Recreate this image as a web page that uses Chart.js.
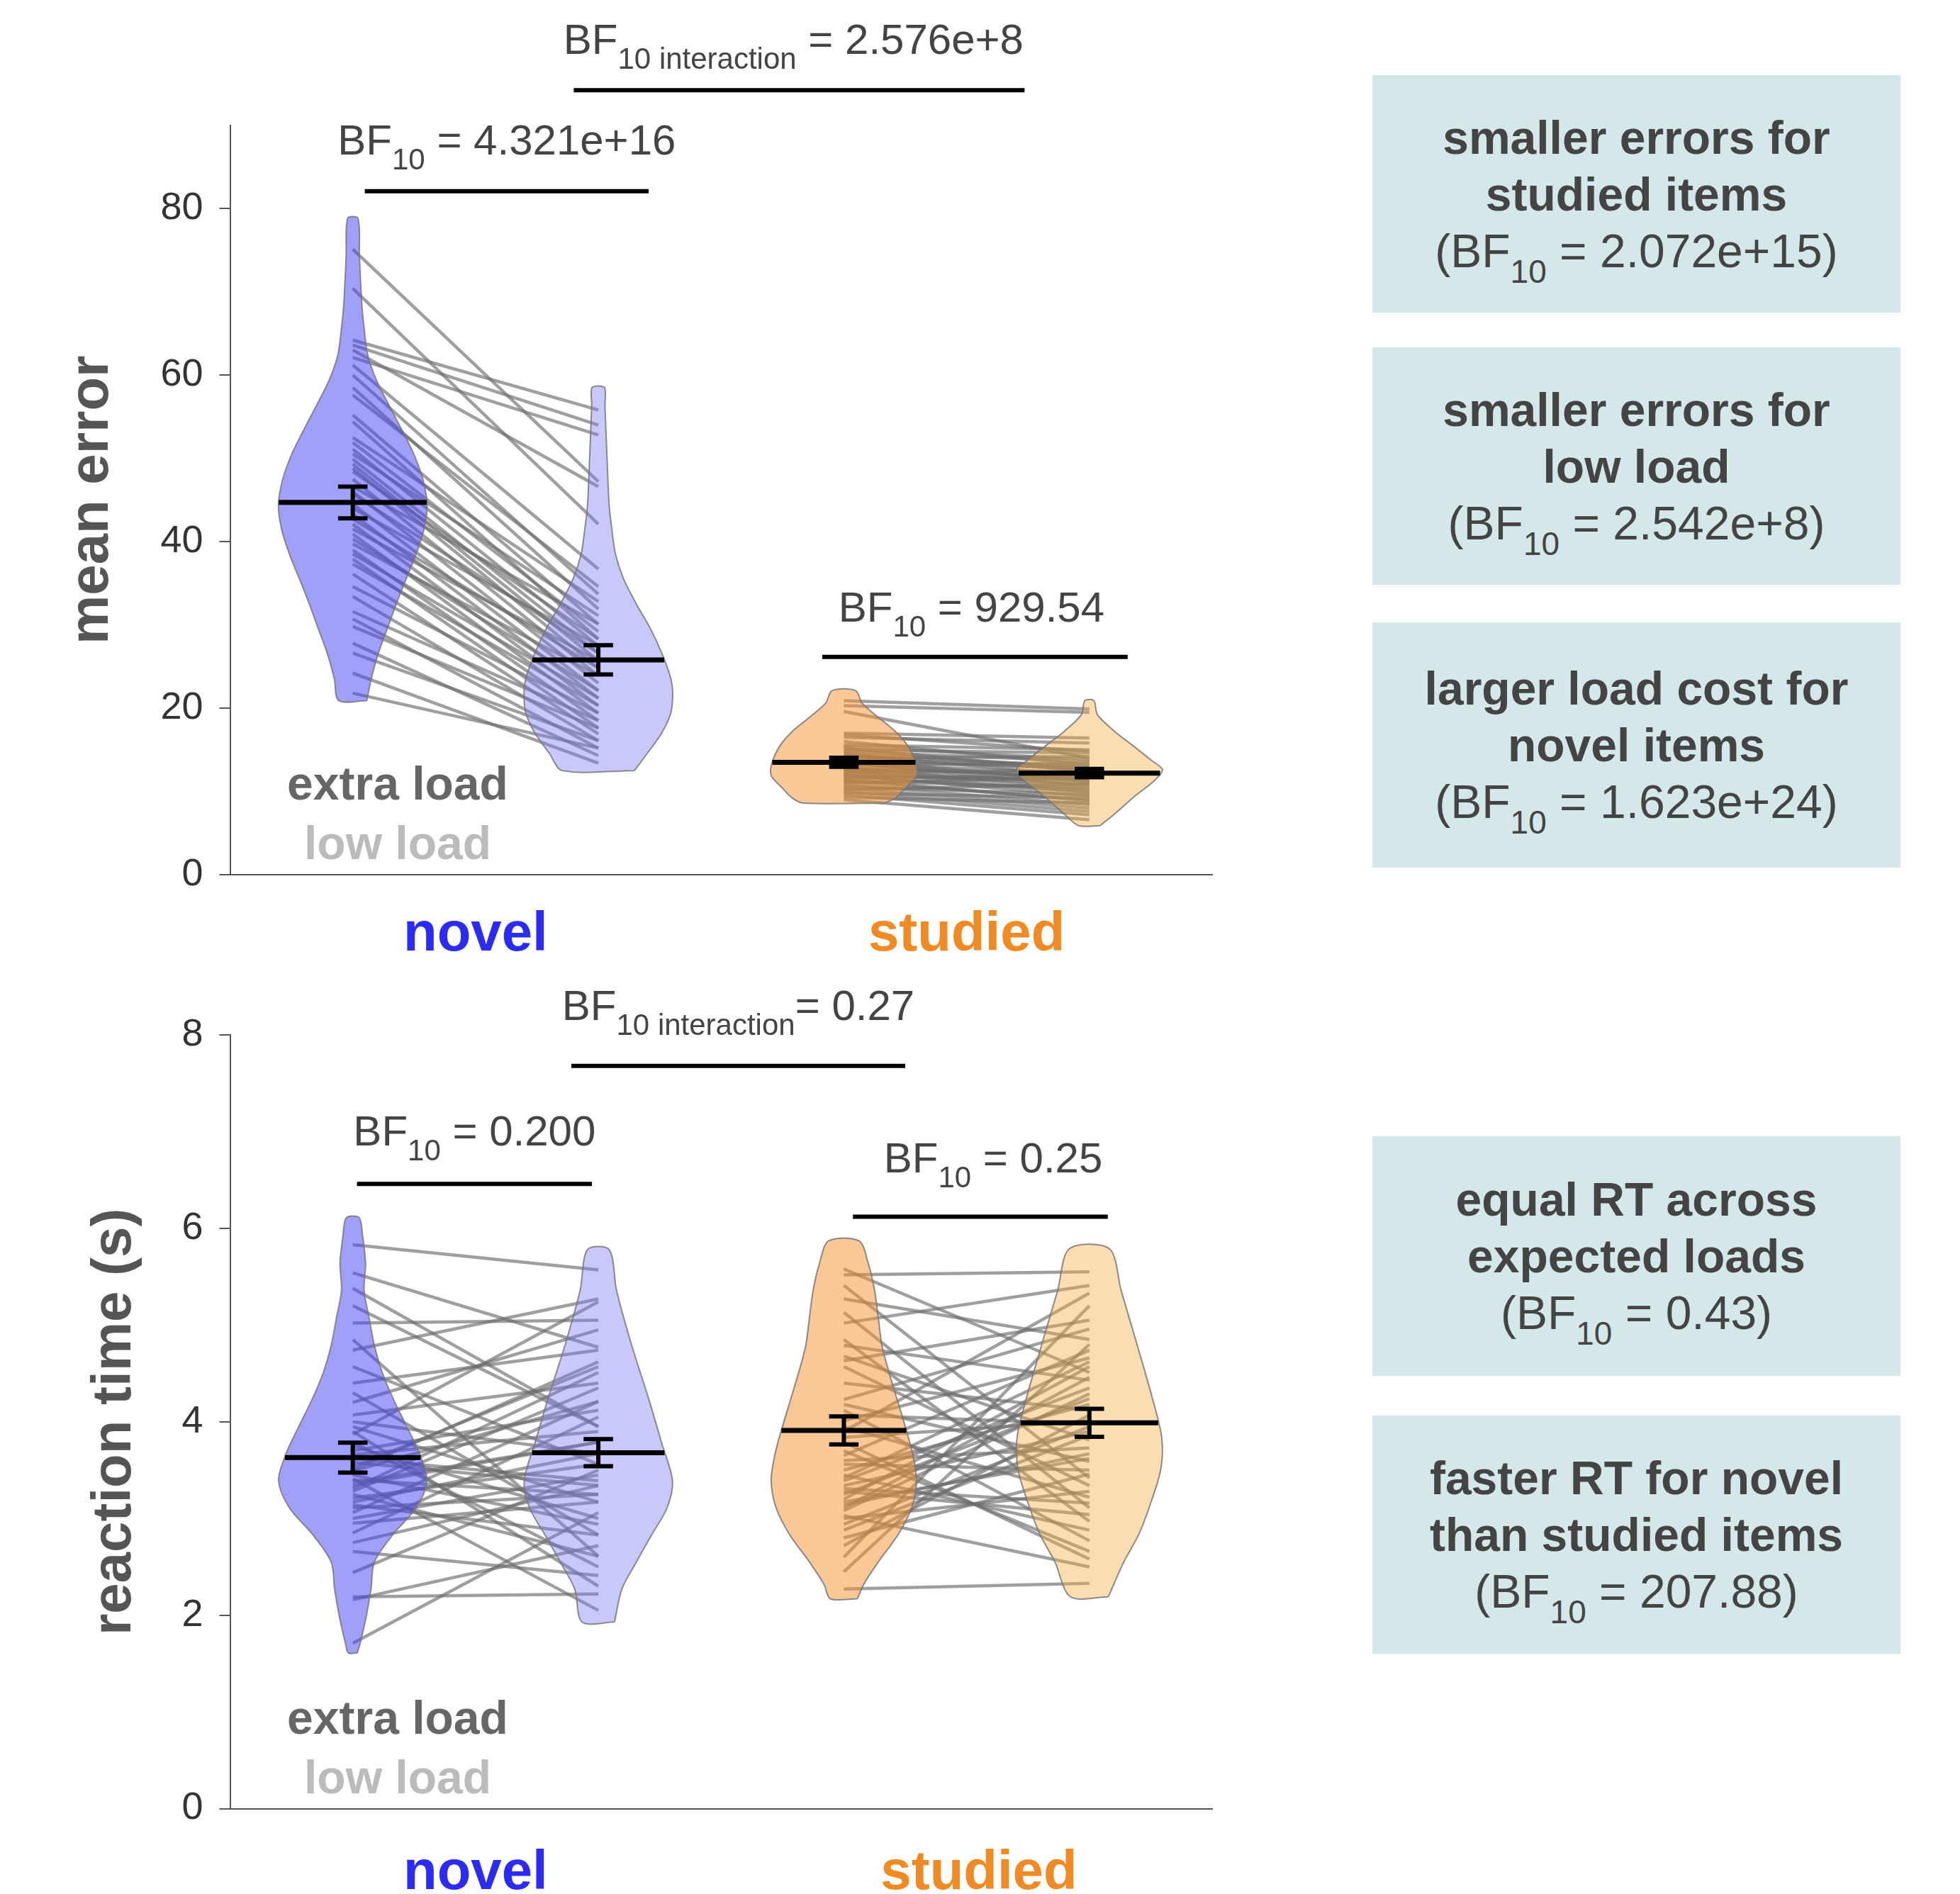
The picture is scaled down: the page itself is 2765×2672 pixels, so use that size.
<!DOCTYPE html>
<html>
<head>
<meta charset="utf-8">
<title>mean error / reaction time</title>
<script src="https://cdn.jsdelivr.net/npm/chart.js@4.4.1/dist/chart.umd.min.js"></script>
<style>
  body { margin: 0; background: #fff; font-family: "Liberation Sans", Arial, sans-serif; }
  #page { position: relative; width: 2765px; height: 2672px; overflow: hidden; }
  .panel { position: absolute; left: 0; width: 1800px; }
  #topPanel { top: 0; height: 1380px; }
  #bottomPanel { top: 1380px; height: 1292px; }
  .box { position: absolute; left: 1936px; width: 745px; background: #d5e8e9; color: #444;
         display: flex; flex-direction: column; justify-content: center; text-align: center;
         font-size: 66px; line-height: 80px; }
  .box .b { font-weight: bold; }
  .box .s { font-size: 46px; position: relative; top: 22px; line-height: 0; }
</style>
</head>
<body>
<div id="page">
  <div class="panel" id="topPanel"><canvas id="errorChart"></canvas></div>
  <div class="panel" id="bottomPanel"><canvas id="rtChart"></canvas></div>

  <div class="box" style="top:106px;height:335px">
    <div class="b">smaller errors for</div>
    <div class="b">studied items</div>
    <div>(BF<span class="s">10</span> = 2.072e+15)</div>
  </div>
  <div class="box" style="top:490px;height:335px">
    <div class="b">smaller errors for</div>
    <div class="b">low load</div>
    <div>(BF<span class="s">10</span> = 2.542e+8)</div>
  </div>
  <div class="box" style="top:878px;height:346px">
    <div class="b">larger load cost for</div>
    <div class="b">novel items</div>
    <div>(BF<span class="s">10</span> = 1.623e+24)</div>
  </div>
  <div class="box" style="top:1603px;height:338px">
    <div class="b">equal RT across</div>
    <div class="b">expected loads</div>
    <div>(BF<span class="s">10</span> = 0.43)</div>
  </div>
  <div class="box" style="top:1997px;height:336px">
    <div class="b">faster RT for novel</div>
    <div class="b">than studied items</div>
    <div>(BF<span class="s">10</span> = 207.88)</div>
  </div>
</div>

<script>
// Categorias e cores

const categories = ['novel', 'studied'];
const categoryColors = ['#2b2bf2', '#f08a24'];
const loads = ['extra load', 'low load'];
const loadColors = ['#666666', '#bbbbbb'];

const errorTicks = [0, 20, 40, 60, 80];
const rtTicks = [0, 2, 4, 6, 8];

// médias e erro padrão: novel extra, novel low, studied extra, studied low
const errorMeans = [44.7, 25.8, 13.5, 12.2];
const errorSE = [1.9, 1.75, 0.55, 0.5];
const rtMeans = [3.63, 3.68, 3.91, 3.99];
const rtSE = [0.155, 0.14, 0.145, 0.145];

// valores por participante (erro médio)
const novelErrorExtra = [75.1, 70.4, 64.2, 63.6, 63.0, 62.1, 61.2, 60.0, 58.5, 57.6, 55.2, 54.4, 52.5, 51.9, 51.1, 50.5,
  49.9, 49.3, 48.8, 48.4, 47.5, 46.6, 46.0, 45.7, 44.5, 44.0, 43.3, 42.7, 42.1, 41.5, 40.9, 40.3, 39.7, 39.0, 38.5,
  37.9, 37.3, 36.1, 34.6, 33.4, 31.6, 30.7, 29.8, 27.8, 26.6, 24.2, 21.8];
const novelErrorLow = [47.2, 42.1, 55.8, 54.0, 46.6, 52.8, 36.7, 33.7, 31.9, 34.6, 30.1, 28.3, 32.8, 29.2, 27.5, 31.1,
  26.6, 25.7, 24.8, 28.3, 23.9, 30.1, 23.0, 26.6, 22.1, 27.5, 21.2, 24.8, 20.3, 25.7, 19.4, 22.1, 23.9, 18.5, 21.2,
  17.6, 20.3, 16.9, 19.4, 16.1, 18.5, 15.2, 17.6, 14.3, 16.1, 13.4, 15.2];
const studiedErrorExtra = [20.9, 20.3, 19.6, 17.0, 16.5, 16.0, 15.6, 15.2, 15.0, 14.8, 14.5, 14.3, 14.1, 14.0, 13.8, 13.6,
  13.5, 13.3, 13.2, 13.0, 12.9, 12.7, 12.6, 12.5, 12.3, 12.2, 12.0, 11.9, 11.8, 11.6, 11.5, 11.3, 11.2, 11.0, 10.8,
  10.6, 10.4, 10.2, 10.0, 9.8, 9.6, 9.3, 9.0, 16.8, 15.4, 14.6, 13.4];
const studiedErrorLow = [19.9, 19.5, 14.0, 16.4, 15.8, 13.2, 15.0, 12.4, 14.6, 13.6, 11.8, 13.0, 12.6, 14.2, 11.2, 12.8,
  10.6, 12.2, 13.4, 11.6, 10.2, 12.0, 11.0, 9.8, 12.5, 10.8, 9.4, 11.4, 10.0, 11.9, 8.8, 10.4, 9.0, 11.7, 8.4,
  9.6, 8.0, 10.9, 7.6, 9.2, 7.2, 8.6, 6.6, 14.8, 13.8, 12.9, 11.3];

// valores por participante (tempo de reação)
const novelRtExtra = [5.83, 5.54, 5.38, 5.02, 4.74, 4.57, 4.40, 4.30, 4.07, 3.95, 3.87, 3.79, 3.70, 3.62, 3.53, 3.45,
  3.37, 3.31, 3.25, 3.17, 3.11, 3.06, 2.75, 2.66, 2.44, 2.19, 2.16, 1.71, 3.90, 3.66, 3.58, 3.49, 3.41, 3.34, 3.28,
  3.21, 3.14, 3.40, 3.50, 3.75, 4.00, 4.20, 4.85, 5.20, 2.95, 2.85, 3.00];
const novelRtLow = [5.57, 4.77, 3.95, 5.05, 5.27, 3.56, 4.74, 2.83, 4.40, 3.17, 5.24, 2.50, 4.12, 3.39, 4.57, 2.94,
  3.79, 4.51, 2.61, 3.67, 3.25, 4.21, 3.34, 2.41, 3.50, 2.22, 2.72, 3.06, 2.30, 3.90, 3.34, 4.21, 2.05, 3.79, 4.35,
  3.56, 2.83, 3.25, 4.62, 3.00, 3.67, 4.95, 2.61, 3.95, 3.17, 4.05, 3.45];
const studiedRtExtra = [5.58, 5.52, 5.41, 5.27, 5.13, 5.02, 4.85, 4.79, 4.68, 4.63, 4.57, 4.23, 4.18, 4.12, 4.01, 3.95,
  3.90, 3.84, 3.79, 3.65, 3.56, 3.50, 3.45, 3.39, 3.34, 3.28, 3.20, 3.14, 3.08, 3.03, 2.94, 2.72, 2.27, 3.60, 3.42,
  3.31, 3.25, 3.17, 3.11, 3.00, 2.88, 2.80, 4.40, 4.07, 3.70, 2.60, 2.45];
const studiedRtLow = [4.51, 5.55, 3.42, 4.85, 3.11, 5.41, 2.97, 4.43, 3.81, 5.05, 3.34, 4.96, 3.59, 2.77, 4.66, 3.22,
  5.33, 4.01, 2.58, 4.74, 3.50, 4.18, 2.88, 4.35, 3.90, 3.04, 4.57, 3.67, 4.29, 2.50, 3.95, 4.07, 2.33, 3.73, 4.62,
  3.16, 4.24, 3.62, 4.46, 3.28, 3.86, 3.46, 4.12, 3.98, 2.66, 5.20, 4.80];

// contorno dos violinos: níveis e meia largura (densidade)
const violinNovelExtraErrY = [20.9, 23.5, 26.5, 29.5, 32.5, 35.5, 38.5, 41.5, 44.4, 47.4, 50.4, 53.4, 56.4, 59.4, 62.4, 65.4, 68.4, 74.3, 78.8];
const violinNovelExtraErrW = [0.057, 0.075, 0.103, 0.14, 0.177, 0.217, 0.258, 0.29, 0.303, 0.286, 0.25, 0.20, 0.147, 0.096, 0.061, 0.047, 0.037, 0.027, 0.021];
const violinNovelLowErrY = [12.5, 14.6, 17.0, 19.4, 21.8, 23.6, 26.5, 29.5, 32.5, 35.5, 38.5, 41.5, 44.4, 50.4, 56.4, 58.5];
const violinNovelLowErrW = [0.147, 0.2, 0.258, 0.295, 0.303, 0.295, 0.26, 0.213, 0.155, 0.103, 0.07, 0.055, 0.044, 0.035, 0.027, 0.025];
const violinStudiedExtraErrY = [8.6, 9.2, 10.4, 11.9, 13.4, 15.5, 17.2, 18.9, 20.6, 22.1];
const violinStudiedExtraErrW = [0.165, 0.21, 0.25, 0.296, 0.293, 0.26, 0.21, 0.14, 0.074, 0.048];
const violinStudiedLowErrY = [5.9, 7.3, 9.4, 11.3, 12.6, 13.7, 15.5, 17.2, 19.2, 20.9];
const violinStudiedLowErrW = [0.044, 0.103, 0.184, 0.265, 0.298, 0.254, 0.177, 0.103, 0.033, 0.018];

const violinNovelExtraRtY = [1.61, 1.71, 1.99, 2.27, 2.55, 2.83, 3.11, 3.39, 3.67, 3.95, 4.23, 4.51, 4.79, 5.08, 5.36, 5.64, 5.92, 6.11];
const violinNovelExtraRtW = [0.018, 0.03, 0.055, 0.074, 0.088, 0.162, 0.258, 0.302, 0.272, 0.22, 0.166, 0.12, 0.088, 0.066, 0.046, 0.052, 0.04, 0.026];
const violinNovelLowRtY = [1.93, 2.27, 2.55, 2.83, 3.11, 3.39, 3.78, 4.23, 4.79, 5.36, 5.78];
const violinNovelLowRtW = [0.066, 0.096, 0.155, 0.217, 0.28, 0.302, 0.258, 0.206, 0.136, 0.074, 0.044];
const violinStudiedExtraRtY = [2.17, 2.32, 2.55, 2.83, 3.11, 3.39, 3.67, 3.95, 4.23, 4.51, 4.79, 5.08, 5.36, 5.64, 5.87];
const violinStudiedExtraRtW = [0.055, 0.081, 0.14, 0.22, 0.276, 0.296, 0.28, 0.25, 0.217, 0.184, 0.155, 0.14, 0.125, 0.099, 0.062];
const violinStudiedLowRtY = [2.19, 2.55, 2.83, 3.11, 3.50, 3.83, 4.23, 4.79, 5.36, 5.79];
const violinStudiedLowRtW = [0.077, 0.14, 0.2, 0.243, 0.29, 0.295, 0.258, 0.195, 0.129, 0.081];

// posição de cada violino no eixo x (0..4)
const posicoes = [0.5, 1.5, 2.5, 3.5];
const coresViolino = ['rgba(65,65,245,0.5)', 'rgba(117,117,242,0.4)', 'rgba(245,145,45,0.5)', 'rgba(245,170,62,0.4)'];

Chart.defaults.font.family = '"Liberation Sans", Arial, sans-serif';

function contorno(c, ys, ws) {
    const direita = ys.map((y, i) => ({ x: c + ws[i], y: y }));
    const esquerda = ys.map((y, i) => ({ x: c - ws[i], y: y })).reverse();
    return direita.concat(esquerda, [direita[0]]);
}

function larguraEm(ys, ws, v) {
    for (let i = 0; i < ys.length - 1; i++) {
        if (v >= ys[i] && v <= ys[i + 1]) {
            const t = (v - ys[i]) / (ys[i + 1] - ys[i]);
            return ws[i] + t * (ws[i + 1] - ws[i]);
        }
    }
    return ws[0];
}

function montarDatasets(violinos, pares, medias, erros) {
    const sets = [];
    pares.forEach(p => {
        p.a.forEach((v, i) => {
            sets.push({
                data: [{ x: p.de, y: v }, { x: p.para, y: p.b[i] }],
                borderColor: 'rgba(110,110,110,0.66)',
                borderWidth: 4.5,
                pointRadius: 0,
                order: 3
            });
        });
    });
    violinos.forEach((vi, k) => {
        const c = posicoes[k];
        sets.push({
            data: contorno(c, vi.y, vi.w),
            borderColor: 'rgba(120,120,120,0.85)',
            borderWidth: 2,
            backgroundColor: coresViolino[k],
            fill: 'shape',
            tension: 0.3,
            pointRadius: 0,
            order: 2
        });
        const m = medias[k];
        const hw = larguraEm(vi.y, vi.w, m);
        sets.push({
            data: [{ x: c - hw, y: m }, { x: c + hw, y: m }],
            borderColor: '#000',
            borderWidth: 7,
            pointRadius: 0,
            order: 1
        });
        const cap = 0.06, e = erros[k];
        sets.push({
            data: [
                { x: c, y: m - e }, { x: c, y: m + e }, { x: c, y: null },
                { x: c - cap, y: m + e }, { x: c + cap, y: m + e }, { x: c, y: null },
                { x: c - cap, y: m - e }, { x: c + cap, y: m - e }
            ],
            borderColor: '#000',
            borderWidth: 6,
            pointRadius: 0,
            order: 0
        });
    });
    return sets;
}

// plugin: barras com BF10 e a legenda das cargas
const notasPlugin = {
    id: 'notas',
    afterDraw(chart, args, opts) {
        const { ctx, chartArea } = chart;
        const x = chart.scales.x, y = chart.scales.y;
        ctx.save();
        opts.brackets.forEach(b => {
            const x1 = x.getPixelForValue(b.x1);
            const x2 = x.getPixelForValue(b.x2);
            const yy = y.getPixelForValue(b.y);
            ctx.strokeStyle = '#000';
            ctx.lineWidth = 6;
            ctx.beginPath();
            ctx.moveTo(x1, yy);
            ctx.lineTo(x2, yy);
            ctx.stroke();

            const grande = '60px "Liberation Sans", Arial, sans-serif';
            const pequena = '42px "Liberation Sans", Arial, sans-serif';
            ctx.font = grande;
            const wBF = ctx.measureText('BF').width;
            const wVal = ctx.measureText(b.value).width;
            ctx.font = pequena;
            const wSub = ctx.measureText(b.sub).width;
            let tx = (x1 + x2) / 2 - (wBF + wSub + wVal) / 2 + (b.dx || 0);
            const base = yy - b.gap;
            ctx.fillStyle = '#444';
            ctx.textAlign = 'left';
            ctx.textBaseline = 'alphabetic';
            ctx.font = grande;
            ctx.fillText('BF', tx, base);
            tx += wBF;
            ctx.font = pequena;
            ctx.fillText(b.sub, tx, base + 21);
            tx += wSub;
            ctx.font = grande;
            ctx.fillText(b.value, tx, base);
        });
        ctx.font = 'bold 66px "Liberation Sans", Arial, sans-serif';
        ctx.textAlign = 'center';
        ctx.textBaseline = 'alphabetic';
        const offsets = [106, 22];
        loads.forEach((txt, i) => {
            ctx.fillStyle = loadColors[i];
            ctx.fillText(txt, chartArea.left + 236.5, chartArea.bottom - offsets[i]);
        });
        ctx.restore();
    }
};

function opcoes(cfg) {
    return {
        responsive: true,
        maintainAspectRatio: false,
        animation: false,
        events: [],
        layout: { padding: cfg.padding },
        scales: {
            x: {
                type: 'linear',
                min: 0,
                max: 4,
                grid: { display: false },
                border: { color: '#555', width: 2 },
                afterBuildTicks: scale => { scale.ticks = cfg.catPos.map(v => ({ value: v })); },
                afterFit: scale => { scale.height = cfg.xHeight; },
                ticks: {
                    padding: cfg.xPad,
                    maxRotation: 0,
                    autoSkip: false,
                    font: { size: 78, weight: 'bold' },
                    color: c => categoryColors[c.index],
                    callback: (v, i) => categories[i]
                }
            },
            y: {
                min: 0,
                max: cfg.yMax,
                grid: { drawOnChartArea: false, drawTicks: true, tickLength: 15, color: '#555', lineWidth: 2 },
                border: { color: '#555', width: 2 },
                afterBuildTicks: scale => { scale.ticks = cfg.yTicks.map(v => ({ value: v })); },
                afterFit: scale => { scale.width = 324.5; },
                ticks: { padding: 23, font: { size: 54 }, color: '#333' },
                title: {
                    display: true,
                    text: cfg.yTitle,
                    color: '#555',
                    font: { size: 78, weight: 'bold' },
                    padding: { top: cfg.titlePad, bottom: 0 }
                }
            }
        },
        plugins: {
            legend: { display: false },
            tooltip: { enabled: false },
            notas: { brackets: cfg.brackets }
        }
    };
}

// Gráfico de cima: erro médio

const graficoErro = new Chart(document.getElementById('errorChart'), {
    type: 'line',
    data: {
        datasets: montarDatasets(
            [
                { y: violinNovelExtraErrY, w: violinNovelExtraErrW },
                { y: violinNovelLowErrY, w: violinNovelLowErrW },
                { y: violinStudiedExtraErrY, w: violinStudiedExtraErrW },
                { y: violinStudiedLowErrY, w: violinStudiedLowErrW }
            ],
            [
                { de: posicoes[0], para: posicoes[1], a: novelErrorExtra, b: novelErrorLow },
                { de: posicoes[2], para: posicoes[3], a: studiedErrorExtra, b: studiedErrorLow }
            ],
            errorMeans, errorSE)
    },
    options: opcoes({
        yMax: 90,
        yTicks: errorTicks,
        yTitle: 'mean error',
        titlePad: 84,
        xHeight: 146,
        xPad: 31,
        catPos: [1, 3],
        padding: { top: 176.6, right: 90, left: 0, bottom: 0 },
        brackets: [
            { x1: 1.40, x2: 3.236, y: 94.2, sub: '10 interaction', value: ' = 2.576e+8', gap: 51, dx: -8 },
            { x1: 0.549, x2: 1.705, y: 82.07, sub: '10', value: ' = 4.321e+16', gap: 52 },
            { x1: 2.412, x2: 3.656, y: 26.15, sub: '10', value: ' = 929.54', gap: 50, dx: -5 }
        ]
    }),
    plugins: [notasPlugin]
});

// Gráfico de baixo: tempo de reação

const graficoRT = new Chart(document.getElementById('rtChart'), {
    type: 'line',
    data: {
        datasets: montarDatasets(
            [
                { y: violinNovelExtraRtY, w: violinNovelExtraRtW },
                { y: violinNovelLowRtY, w: violinNovelLowRtW },
                { y: violinStudiedExtraRtY, w: violinStudiedExtraRtW },
                { y: violinStudiedLowRtY, w: violinStudiedLowRtW }
            ],
            [
                { de: posicoes[0], para: posicoes[1], a: novelRtExtra, b: novelRtLow },
                { de: posicoes[2], para: posicoes[3], a: studiedRtExtra, b: studiedRtLow }
            ],
            rtMeans, rtSE)
    },
    options: opcoes({
        yMax: 8,
        yTicks: rtTicks,
        yTitle: 'reaction time (s)',
        titlePad: 116,
        xHeight: 120.4,
        xPad: 37,
        catPos: [1, 3.05],
        padding: { top: 80, right: 90, left: 0, bottom: 0 },
        brackets: [
            { x1: 1.39, x2: 2.75, y: 7.68, sub: '10 interaction', value: '= 0.27', gap: 65 },
            { x1: 0.517, x2: 1.474, y: 6.46, sub: '10', value: ' = 0.200', gap: 54 },
            { x1: 2.537, x2: 3.575, y: 6.12, sub: '10', value: ' = 0.25', gap: 63, dx: 18 }
        ]
    }),
    plugins: [notasPlugin]
});
</script>
</body>
</html>
